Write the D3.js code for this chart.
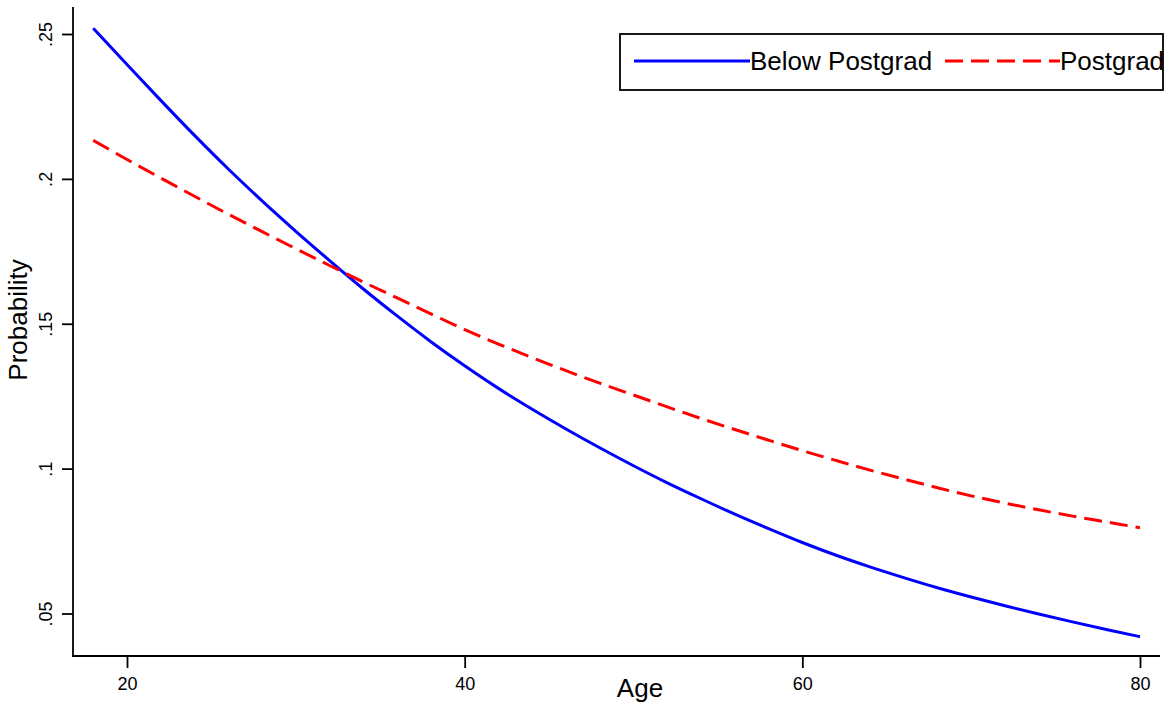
<!DOCTYPE html>
<html>
<head>
<meta charset="utf-8">
<script src="https://cdn.jsdelivr.net/npm/d3@7"></script>
<style>
  html, body { margin: 0; padding: 0; background: #fff; }
  svg { display: block; font-family: "Liberation Sans", Arial, sans-serif; }
</style>
</head>
<body>
<svg id="chart" width="1169" height="709"></svg>
<script>
// ---- data ----
const ages = [18,20,22,24,26,28,30,32,34,36,38,40,42,44,46,48,50,52,54,56,58,60,62,64,66,68,70,72,74,76,78,80];
const belowPostgrad = [.2520,.2395,.2271,.2150,.2034,.1924,.1819,.1718,.1620,.1527,.1438,.1355,.1277,.1205,.1137,.1072,.1010,.0951,.0896,.0843,.0793,.0745,.0701,.0661,.0624,.0589,.0557,.0527,.0498,.0471,.0445,.0420];
const postgrad = [.2133,.2067,.2003,.1940,.1878,.1818,.1759,.1701,.1644,.1589,.1534,.1480,.1430,.1383,.1338,.1295,.1254,.1213,.1173,.1135,.1098,.1062,.1028,.0995,.0964,.0934,.0906,.0881,.0858,.0836,.0816,.0796];
const seriesNames = ["Below Postgrad", "Postgrad"];
const xTicks = [20, 40, 60, 80];
const yTicks = [0.05, 0.10, 0.15, 0.20, 0.25];
const yTickLabels = [".05", ".1", ".15", ".2", ".25"];
const xTitle = "Age";
const yTitle = "Probability";

// ---- layout ----
const svg = d3.select("#chart");
const axisLeftX = 73, axisBottomY = 656, axisTopY = 7, axisRightX = 1160;
const x = d3.scaleLinear().domain([20, 80]).range([127, 1140]);
const y = d3.scaleLinear().domain([0.05, 0.25]).range([613.5, 34]);

// axes lines
svg.append("line").attr("x1", axisLeftX).attr("x2", axisLeftX).attr("y1", axisTopY).attr("y2", axisBottomY + 0.9)
  .attr("stroke", "#000").attr("stroke-width", 1.8);
svg.append("line").attr("x1", axisLeftX - 0.9).attr("x2", axisRightX).attr("y1", axisBottomY).attr("y2", axisBottomY)
  .attr("stroke", "#000").attr("stroke-width", 1.8);

// x axis
const gx = svg.append("g").attr("transform", `translate(0,${axisBottomY})`)
  .call(d3.axisBottom(x).tickValues(xTicks).tickSize(12).tickPadding(9).tickSizeOuter(0).tickFormat(d3.format("d")));
gx.select(".domain").remove();
gx.selectAll(".tick line").attr("stroke-width", 1.8);
gx.selectAll(".tick text").attr("font-size", 18).attr("fill", "#000").attr("font-family", "Liberation Sans, Arial, sans-serif");

// y axis
const gy = svg.append("g").attr("transform", `translate(${axisLeftX},0)`)
  .call(d3.axisLeft(y).tickValues(yTicks).tickSize(11).tickSizeOuter(0).tickFormat((d, i) => yTickLabels[i]));
gy.select(".domain").remove();
gy.selectAll(".tick line").attr("stroke-width", 1.8);
gy.selectAll(".tick text")
  .attr("x", 0).attr("dy", 0).attr("text-anchor", "middle")
  .attr("transform", "translate(-21,0) rotate(-90)")
  .attr("font-size", 18).attr("fill", "#000").attr("font-family", "Liberation Sans, Arial, sans-serif");

// titles
svg.append("text").attr("x", 640).attr("y", 697).attr("text-anchor", "middle")
  .attr("font-size", 26).text(xTitle);
svg.append("text").attr("transform", "translate(27,320) rotate(-90)").attr("text-anchor", "middle")
  .attr("font-size", 26).text(yTitle);

// lines
const line = d3.line().x(d => x(d[0])).y(d => y(d[1])).curve(d3.curveMonotoneX);
svg.append("path").datum(ages.map((a, i) => [a, belowPostgrad[i]]))
  .attr("d", line).attr("fill", "none").attr("stroke", "#0000ff").attr("stroke-width", 3);
svg.append("path").datum(ages.map((a, i) => [a, postgrad[i]]))
  .attr("d", line).attr("fill", "none").attr("stroke", "#ff0000").attr("stroke-width", 3)
  .attr("stroke-dasharray", "18,8");

// legend
const lg = svg.append("g");
lg.append("rect").attr("x", 620).attr("y", 34).attr("width", 543).attr("height", 56)
  .attr("fill", "#fff").attr("stroke", "#000").attr("stroke-width", 1.8);
lg.append("line").attr("x1", 634).attr("x2", 750).attr("y1", 61).attr("y2", 61)
  .attr("stroke", "#0000ff").attr("stroke-width", 3);
lg.append("text").attr("x", 750).attr("y", 70).attr("font-size", 26).text(seriesNames[0]);
lg.append("line").attr("x1", 945).attr("x2", 1060).attr("y1", 61).attr("y2", 61)
  .attr("stroke", "#ff0000").attr("stroke-width", 3).attr("stroke-dasharray", "18,8");
lg.append("text").attr("x", 1060).attr("y", 70).attr("font-size", 26).text(seriesNames[1]);
</script>
</body>
</html>
